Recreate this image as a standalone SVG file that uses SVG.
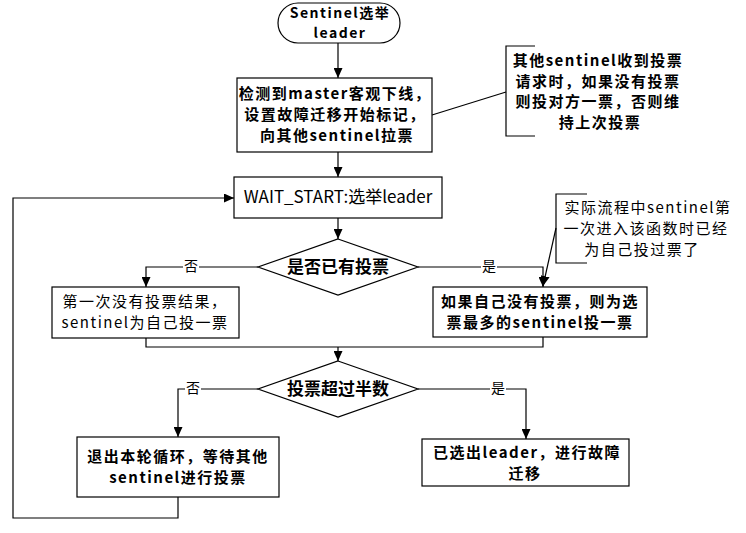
<svg xmlns="http://www.w3.org/2000/svg" width="746" height="533" viewBox="0 0 746 533">
<defs>
<marker id="ah" markerWidth="10" markerHeight="9" refX="10" refY="4.5" orient="auto" markerUnits="userSpaceOnUse">
<path d="M0,0 L10,4.5 L0,9 z" fill="#000"/>
</marker>
<style>
.n{fill:#fff;stroke:#000;stroke-width:1.2}
.br{fill:none;stroke:#000;stroke-width:1.2}
.c{fill:none;stroke:#000;stroke-width:1.2}
.a{marker-end:url(#ah)}
.t{font-family:"Noto Sans CJK SC","Noto Sans",sans-serif;font-size:15px;letter-spacing:1.5px;fill:#000;text-anchor:middle}
.s{font-size:17px;letter-spacing:0}
.b{font-weight:bold}
.l{font-size:14px;letter-spacing:0}
.bg{fill:#fff;stroke:none}
</style>
</defs>
<rect width="746" height="533" fill="#fff"/>
<g id="connectors">
<path class="c a" d="M338,43 L338,78"/>
<path class="c a" d="M338,152 L338,177"/>
<path class="c a" d="M338,218 L338,239"/>
<path class="c" d="M432,115 L506,92"/>
<path class="c a" d="M258,267 L146,267 L146,287"/>
<path class="c a" d="M418,267 L543,267 L543,287"/>
<path class="c a" d="M556,228 L543,286"/>
<path class="c" d="M146,338 L146,347 L543,347 L543,337"/>
<path class="c a" d="M338,347 L338,361"/>
<path class="c a" d="M258,389 L178,389 L178,437"/>
<path class="c a" d="M418,389 L526,389 L526,439"/>
<path class="c a" d="M178,497 L178,518 L13,518 L13,198 L234,198"/>
<rect class="bg" x="183" y="258" width="16" height="17"/>
<text class="t l" x="191" y="271">否</text>
<rect class="bg" x="481" y="258" width="16" height="17"/>
<text class="t l" x="489" y="271">是</text>
<rect class="bg" x="185" y="380" width="16" height="17"/>
<text class="t l" x="193" y="393">否</text>
<rect class="bg" x="490" y="380" width="16" height="17"/>
<text class="t l" x="498" y="393">是</text>
</g>
<g id="start">
<rect class="n" x="278" y="3" width="122" height="40" rx="20" ry="20"/>
<text class="t b" x="340" y="18" style="font-size:14px">Sentinel选举</text>
<text class="t b" x="340" y="38" style="font-size:14px">leader</text>
</g>
<g id="detect">
<rect class="n" x="237" y="78" width="195" height="74"/>
<text class="t b" x="335" y="99">检测到master客观下线，</text>
<text class="t b" x="335" y="120">设置故障迁移开始标记，</text>
<text class="t b" x="337" y="141">向其他sentinel拉票</text>
</g>
<g id="note1">
<path class="br" d="M535,46 L506,46 L506,136 L535,136"/>
<text class="t b" x="598" y="66">其他sentinel收到投票</text>
<text class="t b" x="598" y="86.5">请求时，如果没有投票</text>
<text class="t b" x="598" y="107">则投对方一票，否则维</text>
<text class="t b" x="600" y="127.5">持上次投票</text>
</g>
<g id="wait">
<rect class="n" x="234" y="177" width="208" height="41"/>
<text class="t s" x="338" y="203">WAIT_START:选举leader</text>
</g>
<g id="decision1">
<polygon class="n" points="338,239 418,267 338,295 258,267"/>
<text class="t b s" x="338" y="273">是否已有投票</text>
</g>
<g id="note2">
<path class="br" d="M587,194 L556,194 L556,263 L587,263"/>
<text class="t" x="648" y="213">实际流程中sentinel第</text>
<text class="t" x="646" y="234">一次进入该函数时已经</text>
<text class="t" x="642" y="255">为自己投过票了</text>
</g>
<g id="selfvote">
<rect class="n" x="52" y="287" width="187" height="51"/>
<text class="t" x="145" y="307">第一次没有投票结果，</text>
<text class="t" x="145" y="328">sentinel为自己投一票</text>
</g>
<g id="votemost">
<rect class="n" x="433" y="287" width="214" height="50"/>
<text class="t b" x="540" y="306.5">如果自己没有投票，则为选</text>
<text class="t b" x="540" y="327.5">票最多的sentinel投一票</text>
</g>
<g id="decision2">
<polygon class="n" points="338,361 418,389 338,417 258,389"/>
<text class="t b s" x="338" y="395">投票超过半数</text>
</g>
<g id="exitloop">
<rect class="n" x="77" y="437" width="202" height="60"/>
<text class="t b" x="178" y="462">退出本轮循环，等待其他</text>
<text class="t b" x="178" y="483">sentinel进行投票</text>
</g>
<g id="elected">
<rect class="n" x="422" y="439" width="207" height="47"/>
<text class="t b" x="527" y="457.5">已选出leader，进行故障</text>
<text class="t b" x="525" y="478.5">迁移</text>
</g>
</svg>
